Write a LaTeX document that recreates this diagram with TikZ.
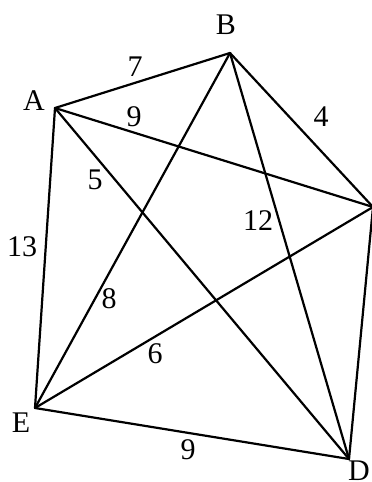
\documentclass[tikz,border=0pt]{standalone}
\usepackage{fontspec}
\setmainfont{Liberation Serif}
\begin{document}
\begin{tikzpicture}[x=1pt,y=-1pt,
  edge/.style={line width=2.2pt,line join=round,line cap=round},
  lab/.style={inner sep=0pt,font=\fontsize{30}{32}\selectfont}]
\useasboundingbox (0,0) rectangle (372,482);
\coordinate (A) at (55,108);
\coordinate (B) at (230,53);
\coordinate (C) at (373,207);
\coordinate (D) at (349,459);
\coordinate (E) at (35,408);
\draw[edge] (A) -- (B);
\draw[edge] (A) -- (C);
\draw[edge] (A) -- (D);
\draw[edge] (A) -- (E);
\draw[edge] (B) -- (C);
\draw[edge] (B) -- (D);
\draw[edge] (B) -- (E);
\draw[edge] (C) -- (D);
\draw[edge] (C) -- (E);
\draw[edge] (D) -- (E);
\node[lab] (lA) at (34,101) {A};
\node[lab] (lB) at (226,25) {B};
\node[lab] (lE) at (21,423) {E};
\node[lab] (lD) at (359,471) {D};
\node[lab] (w7) at (135,67) {7};
\node[lab] (w9a) at (134,117) {9};
\node[lab] (w4) at (321,117) {4};
\node[lab] (w5) at (95,180) {5};
\node[lab] (w12) at (258,221) {12};
\node[lab] (w13) at (22,247) {13};
\node[lab] (w8) at (109,299) {8};
\node[lab] (w6) at (155,354) {6};
\node[lab] (w9b) at (188,450) {9};
\end{tikzpicture}
\end{document}
